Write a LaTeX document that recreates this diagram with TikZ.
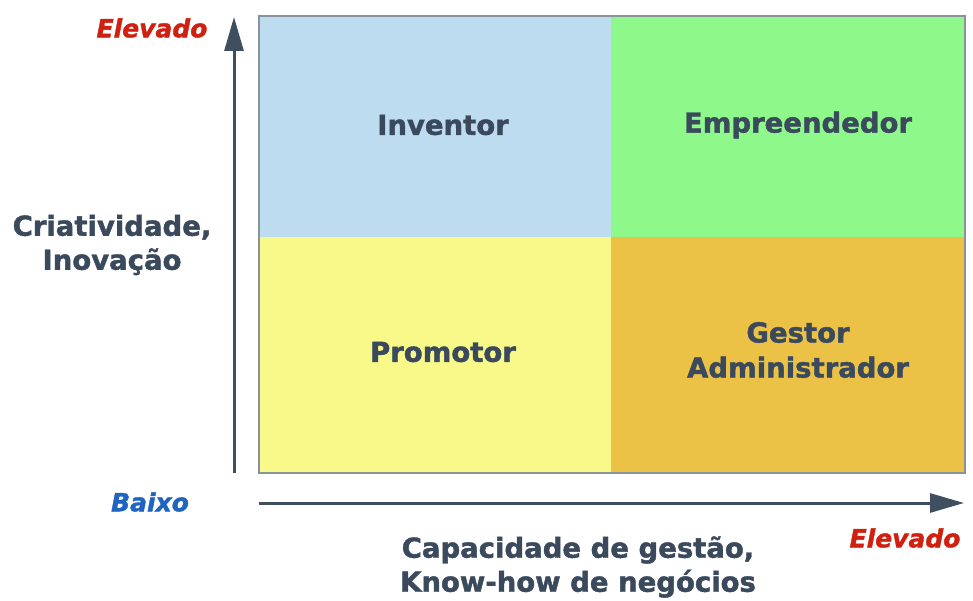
\documentclass[tikz,border=0pt]{standalone}
\usepackage{fontspec}
\setmainfont{DejaVu Sans}[BoldFeatures={FakeBold=1.5},BoldItalicFeatures={FakeBold=1.5}]
\usetikzlibrary{arrows.meta}
\definecolor{qblue}{HTML}{BDDCF0}
\definecolor{qgreen}{HTML}{8EF98A}
\definecolor{qyellow}{HTML}{F9F98A}
\definecolor{qorange}{HTML}{EBC146}
\definecolor{txt}{HTML}{3A4A5C}
\definecolor{axisc}{HTML}{3F4F60}
\definecolor{hired}{HTML}{D0200F}
\definecolor{loblue}{HTML}{1E64C0}
\definecolor{frame}{HTML}{8A929C}
\tikzset{
  qlabel/.style={text=txt, font=\fontsize{27.5}{35}\selectfont\bfseries, align=center, inner sep=0pt},
  atitle/.style={text=txt, font=\fontsize{27.5}{34}\selectfont\bfseries, align=center, inner sep=0pt},
  tag/.style={font=\fontsize{25}{28}\selectfont\bfseries\itshape, inner sep=0pt},
  axis/.style={draw=axisc, line width=3pt, -{Triangle[length=34pt,width=19pt]}}
}
\begin{document}
\begin{tikzpicture}[x=1pt,y=-1pt]
\useasboundingbox (0,0) rectangle (973,601);
\fill[qblue] (259,16) rectangle (611,237);
\fill[qgreen] (611,16) rectangle (965,237);
\fill[qyellow] (259,237) rectangle (611,473);
\fill[qorange] (611,237) rectangle (965,473);
\draw[frame, line width=1.2pt] (259,16) rectangle (965,473);
\node[qlabel] (inv) at (443,125) {Inventor};
\node[qlabel] (emp) at (798,125) {Empreendedor};
\node[qlabel] (pro) at (443,352) {Promotor};
\node[qlabel] (ges) at (798,350) {Gestor\\Administrador};
\coordinate (ybot) at (234,473);
\coordinate (ytop) at (234,17);
\coordinate (xleft) at (259,503);
\coordinate (xright) at (964,503);
\draw[axis] (ybot) -- (ytop);
\draw[axis] (xleft) -- (xright);
\node[tag, text=hired] (yhi) at (152,28) {Elevado};
\node[tag, text=loblue] (ylo) at (150,502) {Baixo};
\node[tag, text=hired] (xhi) at (905,538) {Elevado};
\node[atitle] (ytitle) at (112,245) {Criatividade,\\Inovação};
\node[atitle] (xtitle) at (578,567) {Capacidade de gestão,\\Know-how de negócios};
\end{tikzpicture}
\end{document}
